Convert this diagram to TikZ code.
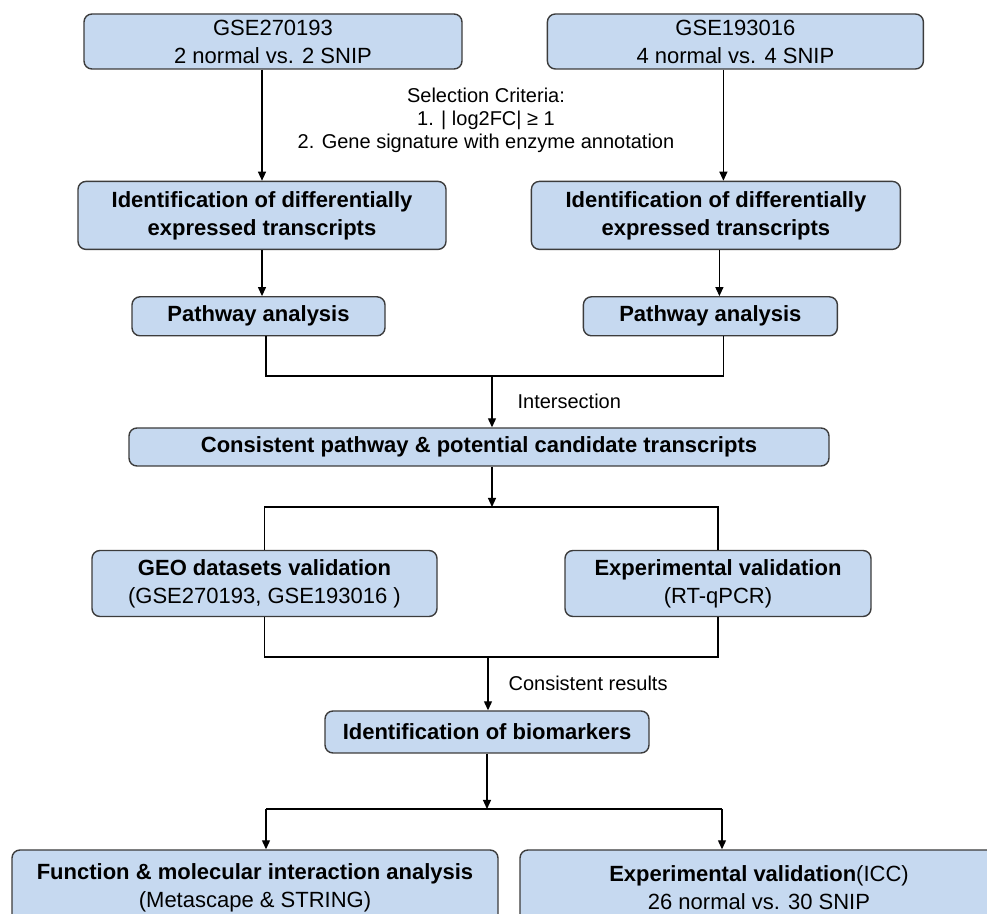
\documentclass[tikz,border=0pt]{standalone}
\usepackage{fontspec}
\setmainfont{Liberation Sans}
\usetikzlibrary{arrows.meta,positioning}
\definecolor{boxfill}{RGB}{198,217,240}
\definecolor{boxline}{RGB}{60,60,60}

\begin{document}
\begin{tikzpicture}[
    x=0.5pt, y=-0.5pt,
    box/.style={rectangle, draw=boxline, fill=boxfill, rounded corners=4pt, line width=0.7pt, align=center, inner sep=0pt, font=\fontsize{11pt}{14pt}\selectfont},
    head/.style={box, font=\fontsize{11pt}{14pt}\selectfont\bfseries},
    note/.style={align=center, inner sep=0pt, font=\fontsize{10pt}{11.5pt}\selectfont},
    arrow/.style={->, >={Triangle[length=4.5pt, width=4pt]}, line width=0.6pt},
    link/.style={line width=0.6pt}
]
    \useasboundingbox (0,0) rectangle (987,914);

    % the two datasets
    \node[box, minimum width=189pt, minimum height=27.5pt] (gseA) at (273,41.5) {GSE270193\\2 normal vs. 2 SNIP};
    \node[box, minimum width=188pt, minimum height=27.5pt, right=42pt of gseA] (gseB) {GSE193016\\4 normal vs. 4 SNIP};
    \node[note] (criteria) at (486,120) {Selection Criteria:\\1. | log2FC| ≥ 1\\2. Gene signature with enzyme annotation};

    \node[head, minimum width=184pt, minimum height=34pt, below=55.5pt of gseA, xshift=-5.5pt] (deA) {Identification of differentially\\expressed transcripts};
    \node[head, minimum width=184.5pt, minimum height=34pt, below=55.5pt of gseB, xshift=-9.75pt] (deB) {Identification of differentially\\expressed transcripts};
    \node[head, minimum width=126.5pt, minimum height=19.5pt, below=23pt of deA, xshift=-1.75pt] (pwA) {Pathway analysis};
    \node[head, minimum width=127pt, minimum height=19.5pt, below=23pt of deB, xshift=-2.75pt] (pwB) {Pathway analysis};

    % merging and validation
    \coordinate (meet1) at (492,376);
    \node[head, minimum width=350pt, minimum height=19pt] (cons) at (479,447) {Consistent pathway \& potential candidate transcripts};
    \coordinate (split1) at (492,507);
    \node[box, minimum width=172.5pt, minimum height=33pt] (geo) at (264.5,583.5) {\textbf{GEO datasets validation}\\(GSE270193, GSE193016 )};
    \node[box, minimum width=153pt, minimum height=33pt] (qpcr) at (718,583.5) {\textbf{Experimental validation}\\(RT-qPCR)};
    \coordinate (meet2) at (488,657);
    \node[head, minimum width=162pt, minimum height=21pt] (bio) at (487,732) {Identification of biomarkers};

    % follow-up analyses
    \coordinate (split2) at (489,809);
    \coordinate (dropL) at (266,809);
    \coordinate (dropR) at (722,809);
    \node[box, minimum width=243pt, minimum height=37.5pt] (func) at (255,887.5) {\textbf{Function \& molecular interaction analysis}\\(Metascape \& STRING)};
    \node[box, minimum width=239pt, minimum height=37.5pt] (icc) at (759,887.5) {\textbf{Experimental validation}(ICC)\\26 normal vs. 30 SNIP};

    \draw[arrow] (deA.north |- gseA.south) -- (deA.north);
    \draw[arrow] ([xshift=3.75pt]deB.north |- gseB.south) -- ([xshift=3.75pt]deB.north);
    \draw[arrow] (deA.south) -- (deA.south |- pwA.north);
    \draw[arrow] ([xshift=1.75pt]deB.south) -- ([xshift=1.75pt]deB.south |- pwB.north);
    \draw[link] ([xshift=3.75pt]pwA.south) |- (meet1) -| ([xshift=6.5pt]pwB.south);
    \draw[arrow] (meet1) -- node[note, right=12.5pt] {Intersection} (meet1 |- cons.north);
    \draw[arrow] (split1 |- cons.south) -- (split1);
    \draw[link] (geo.north) |- (split1) -| (qpcr.north);
    \draw[link] (geo.south) |- (meet2) -| (qpcr.south);
    \draw[arrow] (meet2) -- node[note, right=10pt] {Consistent results} (meet2 |- bio.north);
    \draw[arrow] (bio.south) -- (bio.south |- split2);
    \draw[link] (dropL) -- (dropR);
    \draw[arrow] (dropL) -- (dropL |- func.north);
    \draw[arrow] (dropR) -- (dropR |- icc.north);
\end{tikzpicture}
\end{document}
